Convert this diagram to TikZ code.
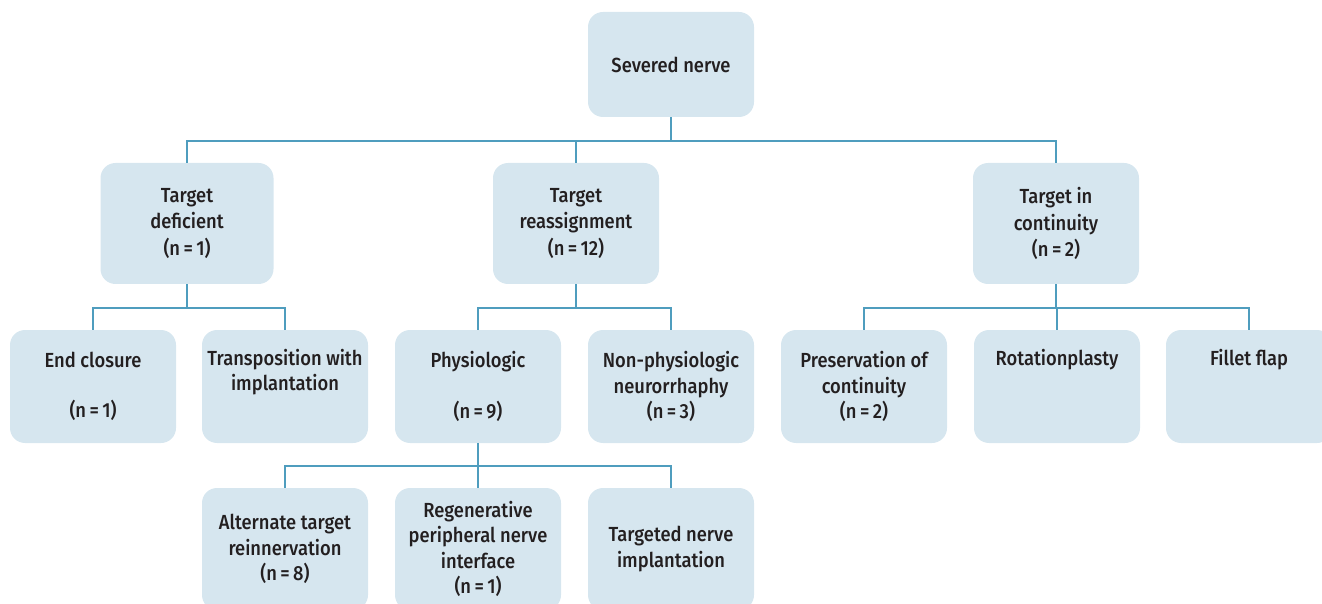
\documentclass[tikz,border=0pt]{standalone}
\usepackage{fontspec}
\setmainfont{Fira Sans}[UprightFont=* Medium, FakeStretch=0.9]
\usepackage{xcolor}
\definecolor{boxfill}{HTML}{D6E6EF}
\definecolor{linkcol}{HTML}{4F9DBE}
\definecolor{txtcol}{HTML}{231F20}

\tikzset{
  box/.style={fill=boxfill, rounded corners=7.5pt, minimum width=83pt, align=center,
    text=txtcol, inner sep=0pt, font=\fontsize{10.2}{12.6}\selectfont},
  tallbox/.style={box, font=\fontsize{10.2}{13.3}\selectfont},
  link/.style={draw=linkcol, line width=0.9pt}
}

\begin{document}
\begin{tikzpicture}[x=0.5pt, y=-0.5pt]
\useasboundingbox (0,0) rectangle (1322,604);
% level 0
\node[box, minimum height=52.5pt] (root) at (671,64.5) {Severed nerve};
% level 1
\node[tallbox, minimum height=60.5pt, minimum width=86.5pt] (deficient) at (187,223.5) {Target\\deficient\\(n\,=\,1)};
\node[tallbox, minimum height=60.5pt] (reassign) at (576,223.5) {Target\\reassignment\\(n\,=\,12)};
\node[tallbox, minimum height=60.5pt] (continuity) at (1056,223.5) {Target in\\continuity\\(n\,=\,2)};
% level 2
\node[box, minimum height=56.5pt] (endclosure) at (93,386.5) {End closure\\\strut\\(n\,=\,1)};
\node[box, minimum height=56.5pt] (transposition) at (285,386.5) {Transposition with\\implantation\\\strut};
\node[box, minimum height=56.5pt] (physiologic) at (478,386.5) {Physiologic\\\strut\\(n\,=\,9)};
\node[box, minimum height=56.5pt] (nonphys) at (671,386.5) {Non-physiologic\\neurorrhaphy\\(n\,=\,3)};
\node[box, minimum height=56.5pt] (preservation) at (864,386.5) {Preservation of\\continuity\\(n\,=\,2)};
\node[box, minimum height=56.5pt] (rotation) at (1057,386.5) {Rotationplasty\\\strut\\\strut};
\node[box, minimum height=56.5pt] (fillet) at (1249,386.5) {Fillet flap\\\strut\\\strut};
% level 3
\node[box, minimum height=61pt] (alternate) at (285,549) {Alternate target\\reinnervation\\(n\,=\,8)};
\node[box, minimum height=61pt] (regenerative) at (478,549) {Regenerative\\peripheral nerve\\interface\\(n\,=\,1)};
\node[box, minimum height=61pt] (targeted) at (671,549) {Targeted nerve\\implantation};

% connectors
\draw[link] (root.south) -- ++(0,23.5) -| (deficient.north);
\draw[link] (root.south) -- ++(0,23.5) -| (reassign.north);
\draw[link] (root.south) -- ++(0,23.5) -| (continuity.north);
\draw[link] (deficient.south) -- ++(0,23.5) -| (endclosure.north);
\draw[link] (deficient.south) -- ++(0,23.5) -| (transposition.north);
\draw[link] (reassign.south) -- ++(0,23.5) -| (physiologic.north);
\draw[link] (reassign.south) -- ++(0,23.5) -| (nonphys.north);
\draw[link] (continuity.south) -- ++(0,23.5) -| (preservation.north);
\draw[link] (continuity.south) -- ++(0,23.5) -| (rotation.north);
\draw[link] (continuity.south) -- ++(0,23.5) -| (fillet.north);
\draw[link] (physiologic.south) -- ++(0,22.5) -| (alternate.north);
\draw[link] (physiologic.south) -- ++(0,22.5) -| (regenerative.north);
\draw[link] (physiologic.south) -- ++(0,22.5) -| (targeted.north);
\end{tikzpicture}
\end{document}
